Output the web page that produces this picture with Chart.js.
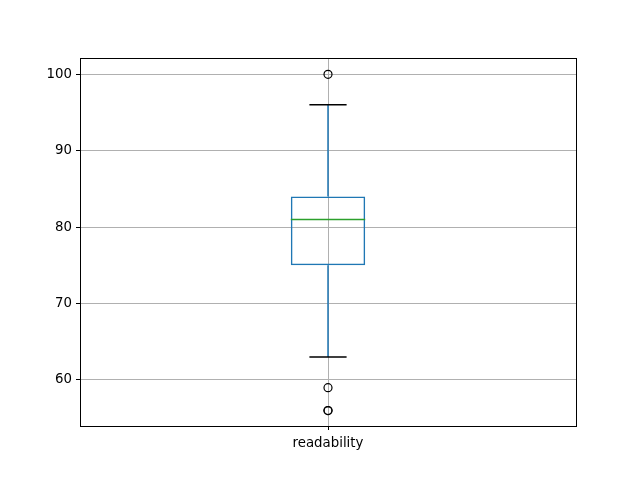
<!DOCTYPE html>
<html>
<head>
<meta charset="utf-8">
<script src="https://cdn.jsdelivr.net/npm/chart.js@4"></script>
<style>
  html, body { margin: 0; padding: 0; background: #fff; }
</style>
</head>
<body>
<canvas id="chart" width="640" height="480"></canvas>
<script>
const categories = ["readability"];
const q1 = [75];
const q3 = [84];
const medians = [81];
const whiskerLow = [63];
const whiskerHigh = [96];
const outliers = [100, 59, 56, 56];
const yTicks = [60, 70, 80, 90, 100];

const FONT = { family: "'DejaVu Sans', sans-serif", size: 13.33 };

// whiskers, caps, median and the frame drawn through the chart's own scales
const boxExtras = {
  id: "boxExtras",
  afterDatasetsDraw(chart) {
    const { ctx, chartArea, scales } = chart;
    const x = scales.x, y = scales.y;
    const bar = chart.getDatasetMeta(0).data;
    ctx.save();
    categories.forEach((c, i) => {
      const cx = x.getPixelForValue(i);
      const half = bar[i].width / 2;
      // whisker lines
      ctx.strokeStyle = "#1f77b4";
      ctx.lineWidth = 1.5;
      ctx.beginPath();
      ctx.moveTo(cx, y.getPixelForValue(q1[i]));
      ctx.lineTo(cx, y.getPixelForValue(whiskerLow[i]));
      ctx.moveTo(cx, y.getPixelForValue(q3[i]));
      ctx.lineTo(cx, y.getPixelForValue(whiskerHigh[i]));
      ctx.stroke();
      // caps
      ctx.strokeStyle = "#000";
      ctx.beginPath();
      [whiskerLow[i], whiskerHigh[i]].forEach(v => {
        const py = y.getPixelForValue(v);
        ctx.moveTo(cx - half / 2, py);
        ctx.lineTo(cx + half / 2, py);
      });
      ctx.stroke();
      // median
      ctx.strokeStyle = "#2ca02c";
      ctx.beginPath();
      const my = y.getPixelForValue(medians[i]);
      ctx.moveTo(cx - half, my);
      ctx.lineTo(cx + half, my);
      ctx.stroke();
    });
    // axes frame
    ctx.strokeStyle = "#000";
    ctx.lineWidth = 1;
    ctx.strokeRect(Math.round(chartArea.left) + 0.5, Math.round(chartArea.top) + 0.5,
      Math.round(chartArea.right - chartArea.left), Math.round(chartArea.bottom - chartArea.top));
    ctx.restore();
  }
};

new Chart(document.getElementById("chart"), {
  type: "bar",
  data: {
    labels: categories,
    datasets: [
      {
        type: "bar",
        data: q1.map((v, i) => [v, q3[i]]),
        backgroundColor: "rgba(0,0,0,0)",
        borderColor: "#1f77b4",
        borderWidth: 1.5,
        borderSkipped: false,
        categoryPercentage: 1,
        barPercentage: 0.15
      },
      {
        type: "line",
        data: outliers.map(v => ({ x: categories[0], y: v })),
        showLine: false,
        pointStyle: "circle",
        pointRadius: 4,
        pointBorderWidth: 1.2,
        pointBorderColor: "#000",
        pointBackgroundColor: "rgba(0,0,0,0)"
      }
    ]
  },
  options: {
    responsive: false,
    animation: false,
    devicePixelRatio: 1,
    layout: { padding: { left: 0, top: 58, right: 64, bottom: 0 } },
    plugins: { legend: { display: false }, tooltip: { enabled: false } },
    scales: {
      x: {
        offset: true,
        grid: { offset: false, color: "#b0b0b0", lineWidth: 1, tickColor: "#000", tickLength: 4 },
        border: { display: false },
        ticks: { color: "#000", font: FONT, padding: 6 },
        afterFit: s => { s.height = 54; }
      },
      y: {
        min: 53.98,
        max: 102.13,
        afterBuildTicks: s => { s.ticks = yTicks.map(v => ({ value: v })); },
        grid: { color: "#b0b0b0", lineWidth: 1, tickColor: "#000", tickLength: 4 },
        border: { display: false },
        ticks: { color: "#000", font: FONT, padding: 4 },
        afterFit: s => { s.width = 80; }
      }
    }
  },
  plugins: [boxExtras]
});
</script>
</body>
</html>
